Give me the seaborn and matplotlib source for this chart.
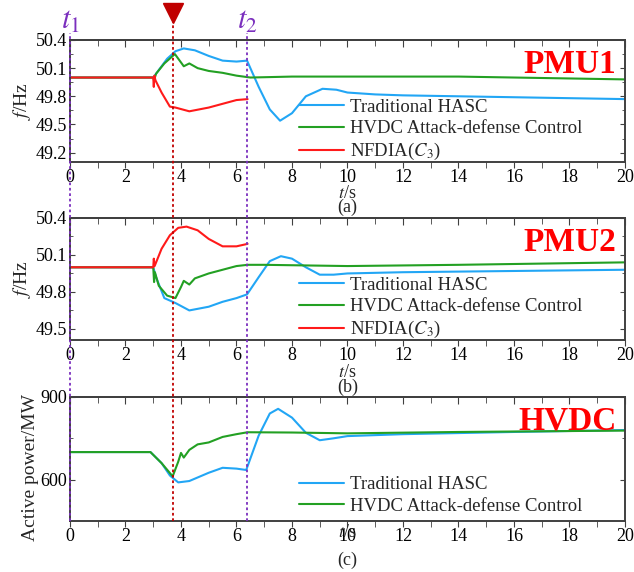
import pandas as pd
import matplotlib.pyplot as plt
import matplotlib.transforms as mtransforms
from matplotlib.lines import Line2D
import seaborn as sns

# ---- data ----
# PMU1 frequency (Hz)
pmu1_t_blue = [0, 3.0, 3.2, 3.5, 3.8, 4.1, 4.5, 5.0, 5.5, 6.0, 6.38, 6.8, 7.2, 7.57, 8.0, 8.5, 9.1, 9.6, 10, 11, 12, 14, 16, 18, 20]
pmu1_f_blue = [50.0, 50.0, 50.08, 50.2, 50.28, 50.31, 50.29, 50.23, 50.18, 50.17, 50.18, 49.9, 49.66, 49.54, 49.62, 49.80, 49.88, 49.87, 49.84, 49.82, 49.81, 49.80, 49.79, 49.78, 49.77]
pmu1_t_green = [0, 3.0, 3.03, 3.1, 3.4, 3.78, 4.1, 4.3, 4.6, 5.0, 5.5, 6.0, 6.5, 8, 10, 14, 20]
pmu1_f_green = [50.0, 50.0, 49.97, 50.04, 50.15, 50.25, 50.12, 50.15, 50.10, 50.07, 50.05, 50.02, 50.0, 50.01, 50.01, 50.01, 49.98]
pmu1_t_red = [0, 3.0, 3.02, 3.04, 3.08, 3.3, 3.6, 3.8, 4.3, 5.0, 5.5, 6.0, 6.4]
pmu1_f_red = [50.0, 50.0, 49.9, 50.02, 49.97, 49.84, 49.69, 49.68, 49.64, 49.68, 49.72, 49.76, 49.77]

# PMU2 frequency (Hz)
pmu2_t_blue = [0, 3.0, 3.1, 3.4, 3.8, 4.3, 5.0, 5.5, 6.0, 6.38, 6.8, 7.2, 7.6, 8.0, 8.5, 9.0, 9.5, 10, 12, 16, 20]
pmu2_f_blue = [50.0, 50.0, 49.92, 49.75, 49.71, 49.65, 49.68, 49.72, 49.75, 49.78, 49.92, 50.05, 50.09, 50.07, 50.0, 49.94, 49.94, 49.95, 49.96, 49.97, 49.98]
pmu2_t_green = [0, 3.0, 3.03, 3.06, 3.2, 3.5, 3.8, 4.0, 4.1, 4.3, 4.5, 5.0, 5.5, 6.0, 6.4, 7, 10, 14, 20]
pmu2_f_green = [50.0, 50.0, 49.88, 49.96, 49.85, 49.77, 49.75, 49.84, 49.89, 49.86, 49.91, 49.95, 49.98, 50.01, 50.02, 50.02, 50.01, 50.02, 50.04]
pmu2_t_red = [0, 3.0, 3.02, 3.05, 3.3, 3.6, 3.9, 4.2, 4.6, 5.0, 5.5, 6.0, 6.4]
pmu2_f_red = [50.0, 50.0, 50.07, 50.01, 50.15, 50.26, 50.32, 50.33, 50.30, 50.23, 50.17, 50.17, 50.19]

# HVDC active power (MW)
hvdc_t_blue = [0, 2.9, 3.3, 3.6, 3.9, 4.3, 5.0, 5.5, 6.0, 6.35, 6.8, 7.2, 7.5, 8.0, 8.5, 9.0, 9.5, 10, 12, 16, 20]
hvdc_p_blue = [700, 700, 660, 615, 590, 595, 625, 643, 640, 635, 760, 840, 857, 825, 770, 743, 750, 758, 765, 773, 780]
hvdc_t_green = [0, 2.9, 3.3, 3.7, 3.9, 4.0, 4.1, 4.3, 4.6, 5.0, 5.5, 6.0, 6.4, 8, 10, 14, 20]
hvdc_p_green = [700, 700, 660, 612, 665, 697, 680, 708, 728, 735, 755, 765, 772, 771, 768, 773, 778]

t1, t_attack, t2 = 0.0, 3.72, 6.38

blue, green, red = "#22A6F5", "#23A023", "#FF1A1A"
purple, dark_red = "#7B2FBE", "#C00000"

sns.set_style("ticks")
plt.rcParams["font.family"] = ["Liberation Serif", "DejaVu Serif"]
plt.rcParams["mathtext.fontset"] = "stix"
plt.rcParams["axes.edgecolor"] = "#404040"
plt.rcParams["axes.linewidth"] = 1.4

fig = plt.figure(figsize=(6.34, 5.72), dpi=100)
ax1 = fig.add_axes([0.1104, 0.7168, 0.8754, 0.2133])
ax2 = fig.add_axes([0.1104, 0.4056, 0.8754, 0.2133])
ax3 = fig.add_axes([0.1104, 0.0892, 0.8754, 0.2168])

lw = 1.5
lab_blue, lab_green, lab_red = "Traditional HASC", "HVDC Attack-defense Control", "NFDIA($C_3$)"

sns.lineplot(x=pmu1_t_blue, y=pmu1_f_blue, ax=ax1, color=blue, lw=lw, label=lab_blue)
sns.lineplot(x=pmu1_t_green, y=pmu1_f_green, ax=ax1, color=green, lw=lw, label=lab_green)
sns.lineplot(x=pmu1_t_red, y=pmu1_f_red, ax=ax1, color=red, lw=lw, label=lab_red)

sns.lineplot(x=pmu2_t_blue, y=pmu2_f_blue, ax=ax2, color=blue, lw=lw, label=lab_blue)
sns.lineplot(x=pmu2_t_green, y=pmu2_f_green, ax=ax2, color=green, lw=lw, label=lab_green)
sns.lineplot(x=pmu2_t_red, y=pmu2_f_red, ax=ax2, color=red, lw=lw, label=lab_red)

sns.lineplot(x=hvdc_t_blue, y=hvdc_p_blue, ax=ax3, color=blue, lw=lw, label=lab_blue)
sns.lineplot(x=hvdc_t_green, y=hvdc_p_green, ax=ax3, color=green, lw=lw, label=lab_green)

fs = 13
ax1.set_ylim(49.1, 50.4)
ax1.set_yticks([49.2, 49.5, 49.8, 50.1, 50.4])
ax2.set_ylim(49.41, 50.4)
ax2.set_yticks([49.5, 49.8, 50.1, 50.4])
ax3.set_ylim(450, 900)
ax3.set_yticks([600, 900])
ax3.set_yticks([750], minor=True)
ax1.set_yticks([50.25, 49.95, 49.65, 49.35], minor=True)
ax2.set_yticks([50.25, 49.95, 49.65], minor=True)

panels = [(ax1, "PMU1", "(a)", 0.262, 0.37),
          (ax2, "PMU2", "(b)", 0.265, 0.39),
          (ax3, "HVDC", "(c)", 0.09, 0.315)]
for ax, name, tag, y_ts, y_tag in panels:
    ax.set_xlim(0, 20)
    ax.set_xticks(range(0, 21, 2))
    ax.set_xticks(range(1, 20, 2), minor=True)
    ax.set_yticklabels([f"{v:g}" if v >= 100 else f"{v:.1f}" for v in ax.get_yticks()])
    ax.tick_params(which="both", direction="in", right=True, labelsize=fs,
                   colors="#404040", labelcolor="black", pad=2)
    ax.tick_params(axis="x", which="both", direction="out", top=False, pad=1)
    ax.tick_params(axis="x", which="major", length=4)
    ax.tick_params(axis="x", which="minor", length=4)
    # top ticks point into the panel
    top = ax.secondary_xaxis("top")
    top.set_xticks(range(0, 21, 2))
    top.set_xticks(range(1, 20, 2), minor=True)
    top.tick_params(which="both", direction="in", labeltop=False, colors="#404040")
    top.tick_params(which="major", length=5)
    top.tick_params(which="minor", length=4)
    ax.set_xlabel("")
    ax.text(0.5, -y_ts, "$t$/s", transform=ax.transAxes, ha="center", va="center", fontsize=fs)
    ax.text(0.5, -y_tag, tag, transform=ax.transAxes, ha="center", va="center", fontsize=fs)
    ax.text(0.985, 0.93, name, transform=ax.transAxes, ha="right", va="top",
            fontsize=24, fontweight="bold", color="#FF0000")

ax1.set_ylabel("$f$/Hz", fontsize=14, labelpad=2)
ax2.set_ylabel("$f$/Hz", fontsize=14, labelpad=2)
ax3.set_ylabel("Active power/MW", fontsize=14)
ax3.yaxis.set_label_coords(-0.055, 0.435)

for ax, anchor in [(ax1, (0.40, -0.065)), (ax2, (0.40, -0.065)), (ax3, (0.40, -0.01))]:
    ax.legend(loc="lower left", bbox_to_anchor=anchor, frameon=False, fontsize=13.5,
              handlelength=2.4, handletextpad=0.3, labelspacing=0.22, borderaxespad=0)

# vertical marker lines through all three panels
fig_y_bottom = 0.0892
tr = mtransforms.blended_transform_factory(ax1.transData, fig.transFigure)
for x, col, y_top in [(t1, purple, 1 - 33 / 572), (t2, purple, 1 - 33 / 572), (t_attack, dark_red, 1 - 20 / 572)]:
    fig.add_artist(Line2D([x, x], [fig_y_bottom, y_top], transform=tr, color=col,
                          lw=1.3, ls=(0, (1.5, 1.5)), zorder=5))

fig.add_artist(Line2D([t_attack], [1 - 13 / 572], transform=tr, marker="v", ms=15,
                      color=dark_red, ls="none"))
fig.text(t1, 1 - 21 / 572, "$t_1$", transform=tr, ha="center", va="center",
         fontsize=22, color=purple)
fig.text(t2, 1 - 21 / 572, "$t_2$", transform=tr, ha="center", va="center",
         fontsize=22, color=purple)

fig.savefig("out.png", dpi=100)
